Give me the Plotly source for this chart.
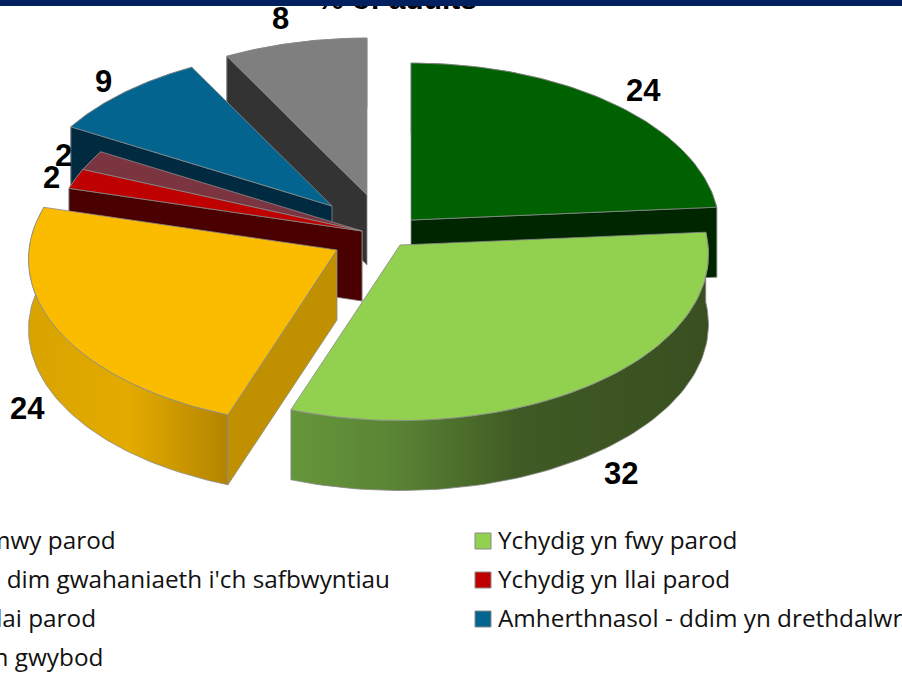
import numpy as np
import plotly.graph_objects as go

# ---- data ----
categories = ["Llawer mwy parod", "Ychydig yn fwy parod",
              "Ni fyddai'n gwneud dim gwahaniaeth i'ch safbwyntiau",
              "Ychydig yn llai parod", "Llawer llai parod",
              "Amherthnasol - ddim yn drethdalwr", "Ddim yn gwybod"]
values = [24, 32, 24, 2, 2, 9, 8]
title_text = "% of adults"

# ---- styles ----
top_colors = ["#006100", "#92D050", "#FBBC00", "#BE0000", "#7A3540", "#02648F", "#7F7F7F"]
wall_colors = ["#002600", "#3A5020", "#C09000", "#4A0000", "#3A1015", "#002A40", "#333333"]
outer_stops = [
    [(0, "#002600"), (1, "#002600")],
    [(0, "#66963B"), (0.25, "#5A8434"), (0.55, "#3F5A24"), (1, "#394F20")],
    [(0, "#D9A300"), (0.5, "#E3AB00"), (1, "#B38400")],
    [(0, "#4A0000"), (1, "#4A0000")],
    [(0, "#3A1015"), (1, "#3A1015")],
    [(0, "#002A40"), (1, "#002A40")],
    [(0, "#333333"), (1, "#333333")],
]
# which radial wall of each slice faces the viewer
visible_wall = ["end", None, "start", "start", "start", "start", "start"]
# per-slice explosion (screen px from the pie centre)
explode_x = [32, 21, -42, -17, -17, -47, -12]
explode_y = [-12, 13, 18, -1, -1, -26, -37]
draw_order = [6, 5, 4, 3, 2, 0, 1]
CX, CY, R, TILT, DEPTH, PERSP = 379, 232, 308, 0.538, 70, 5500
EDGE = dict(color="#8a8a8a", width=0.8)

fractions = np.array(values) / sum(values) * 360
ends = np.cumsum(fractions)
starts = ends - fractions


def project(i, deg, r, z=0.0):
    t = np.radians(deg)
    X, Y = r * np.sin(t), -r * np.cos(t)
    s = 1 / (1 - Y / PERSP)
    ax, ay = CX + explode_x[i], CY + explode_y[i]
    return ax + s * X, ay + s * Y * TILT + z


def poly(xs, ys, color, gradient=None):
    kw = dict(x=np.append(xs, xs[0]), y=np.append(ys, ys[0]), mode="lines", fill="toself",
              line=EDGE, hoverinfo="skip", showlegend=False)
    if gradient is None:
        kw["fillcolor"] = color
    else:
        kw["fillgradient"] = dict(type="horizontal", colorscale=gradient)
    return go.Scatter(**kw)


fig = go.Figure()
for i in draw_order:
    a0, a1 = starts[i], ends[i]
    arc = np.linspace(a0, a1, 80)
    tx, ty = project(i, arc, R)
    bx, by = project(i, arc, R, DEPTH)
    cx, cy = project(i, a0, 0)
    # outer wall with horizontal shading
    fig.add_trace(poly(np.concatenate([tx, bx[::-1]]), np.concatenate([ty, by[::-1]]),
                       None, gradient=outer_stops[i]))
    # the radial wall facing the viewer
    if visible_wall[i]:
        k = 0 if visible_wall[i] == "start" else -1
        fig.add_trace(poly(np.array([cx, tx[k], bx[k], cx]),
                           np.array([cy, ty[k], by[k], cy + DEPTH]), wall_colors[i]))
    # top face
    fig.add_trace(poly(np.concatenate([[cx], tx]), np.concatenate([[cy], ty]), top_colors[i]))

# title (under the header band)
fig.add_trace(go.Scatter(x=[397], y=[16], mode="text", text=[title_text], textposition="top center",
                         cliponaxis=False, hoverinfo="skip", showlegend=False,
                         textfont=dict(family="Liberation Sans", size=30, color="#000", weight="bold")))

# value labels
label_x = [643, 621, 27, 51, 63, 103, 280]
label_y = [90, 473, 408, 177, 155, 81, 18]
for v, x, y in zip(values, label_x, label_y):
    fig.add_annotation(x=x, y=y, text=str(v), showarrow=False, xanchor="center", yanchor="middle",
                       font=dict(family="Liberation Sans", size=31, color="#000", weight="bold"))

# legend
legend_font = dict(family="Open Sans", size=24.3, color="#111")
left_items = [(0, 118, 539), (2, 392, 578), (4, 98, 617), (6, 105, 656)]
for idx, xr, y in left_items:
    fig.add_annotation(x=xr, y=y, text=categories[idx], showarrow=False, xanchor="right",
                       yanchor="middle", font=legend_font)
right_items = [(1, 541), (3, 580), (5, 619)]
for idx, y in right_items:
    fig.add_trace(go.Scatter(x=[483], y=[y], mode="markers", hoverinfo="skip", showlegend=False,
                             marker=dict(symbol="square", size=16, color=top_colors[idx],
                                         line=dict(color="#8a8a8a", width=1))))
    fig.add_annotation(x=496, y=y - 2, text=categories[idx], showarrow=False, xanchor="left",
                       yanchor="middle", font=legend_font)

fig.add_shape(type="rect", xref="paper", yref="paper", x0=0, x1=1, y0=1 - 6 / 675, y1=1,
              fillcolor="#002060", line_width=0, layer="above")
fig.update_layout(width=902, height=675, margin=dict(l=0, r=0, t=0, b=0), showlegend=False,
                  paper_bgcolor="white", plot_bgcolor="white",
                  xaxis=dict(range=[0, 902], visible=False),
                  yaxis=dict(range=[675, 0], visible=False))
fig.write_html("out.html", config={"displayModeBar": False},
               post_script="document.body.style.margin='0';document.body.style.overflow='hidden';")
